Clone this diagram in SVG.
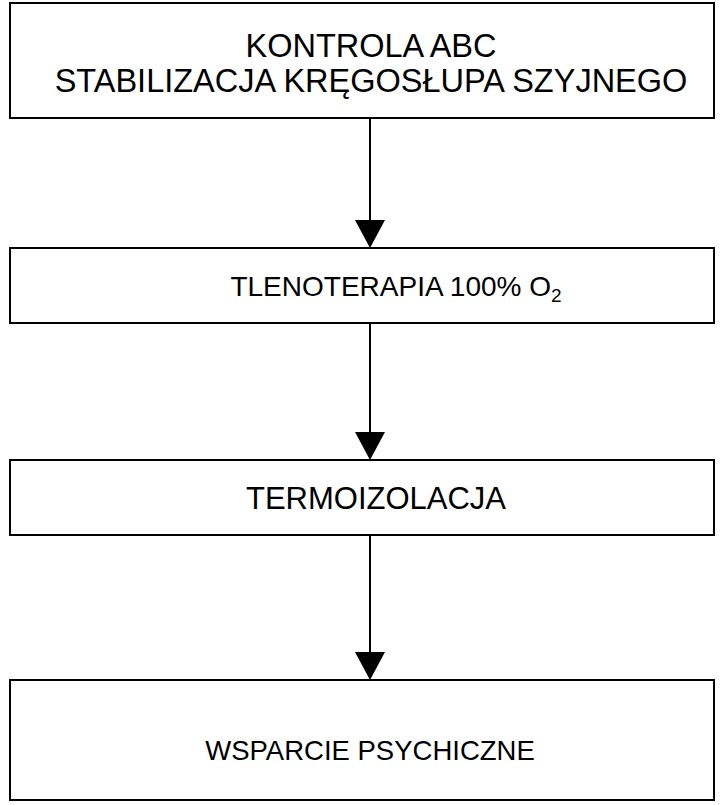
<svg xmlns="http://www.w3.org/2000/svg" width="724" height="805" viewBox="0 0 724 805">
<style>
.box{fill:#fff;stroke:#000;stroke-width:2}
.t{font-family:"Liberation Sans",Arial,sans-serif;fill:#000;text-anchor:middle}
.ln{stroke:#000;stroke-width:2;fill:none}
.hd{fill:#000}
</style>
<rect width="724" height="805" fill="#fff"/>
<g id="connectors">
<line class="ln" x1="370" y1="118" x2="370" y2="222"/>
<polygon class="hd" points="355,220 385,220 370,248"/>
<line class="ln" x1="370" y1="323" x2="370" y2="434"/>
<polygon class="hd" points="355,432 385,432 370,460"/>
<line class="ln" x1="370" y1="535" x2="370" y2="654"/>
<polygon class="hd" points="355,652 385,652 370,680"/>
</g>
<g id="n1">
<rect class="box" x="10" y="3" width="704" height="115"/>
<text class="t" x="371" y="57" font-size="32.5">KONTROLA ABC</text>
<text class="t" x="371" y="92" font-size="32.5">STABILIZACJA KRĘGOSŁUPA SZYJNEGO</text>
</g>
<g id="n2">
<rect class="box" x="10" y="248" width="704" height="75"/>
<text class="t" x="396" y="296" font-size="28">TLENOTERAPIA 100% O<tspan font-size="19" dy="6">2</tspan></text>
</g>
<g id="n3">
<rect class="box" x="10" y="460" width="704" height="75"/>
<text class="t" x="376" y="509" font-size="31">TERMOIZOLACJA</text>
</g>
<g id="n4">
<rect class="box" x="10" y="680" width="704" height="120"/>
<text class="t" x="370" y="760" font-size="27.5">WSPARCIE PSYCHICZNE</text>
</g>
</svg>
